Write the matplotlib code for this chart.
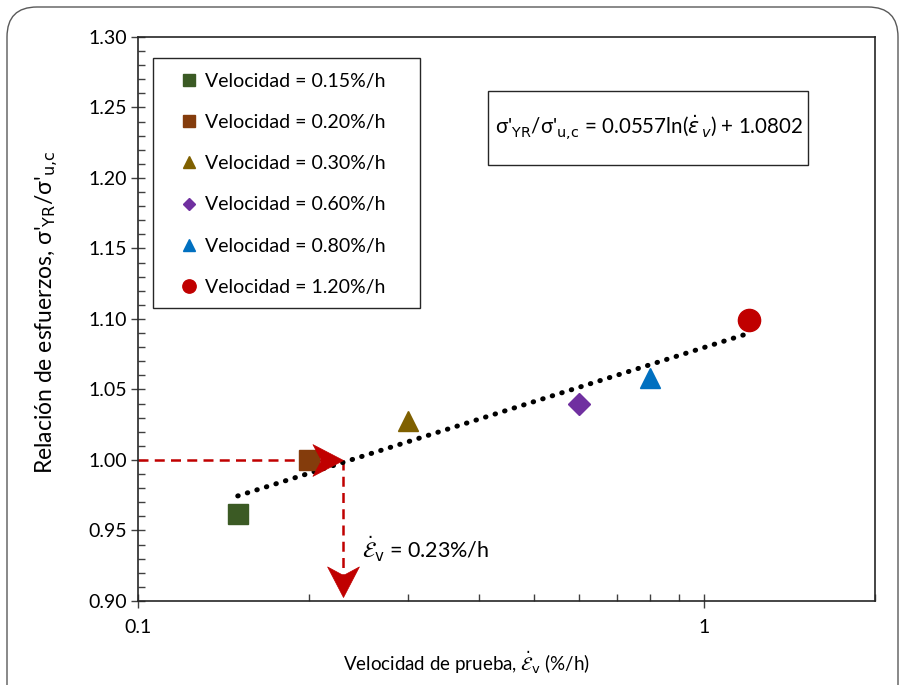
import numpy as np
import matplotlib.pyplot as plt
from matplotlib.patches import FancyBboxPatch, Rectangle
from matplotlib.markers import MarkerStyle
from matplotlib.path import Path
from matplotlib.transforms import Affine2D
from matplotlib.ticker import LogLocator, NullFormatter, MultipleLocator

plt.rcParams['font.family'] = ['Lato', 'DejaVu Sans']
plt.rcParams['mathtext.fontset'] = 'dejavusans'

# data
velocidades = [0.15, 0.20, 0.30, 0.60, 0.80, 1.20]
relacion = [0.962, 1.000, 1.028, 1.040, 1.058, 1.099]
etiquetas = ["Velocidad = 0.15%/h", "Velocidad = 0.20%/h", "Velocidad = 0.30%/h",
             "Velocidad = 0.60%/h", "Velocidad = 0.80%/h", "Velocidad = 1.20%/h"]
colores = ["#3B5A24", "#843C0C", "#7F6000", "#7030A0", "#0070C0", "#C00000"]
marcadores = ["s", "s", "^", "D", "^", "o"]
tamanos = [14, 14, 15, 11, 15, 16]
v_objetivo = 0.23
r_objetivo = 1.00

fig = plt.figure(figsize=(9.04, 6.85), dpi=100)
ax = fig.add_axes([138/904, 84/685, 737/904, 564/685])

# rounded outer frame
fig.patches.append(FancyBboxPatch((0.07, -0.4), 8.91, 7.18,
                                  boxstyle="round,pad=0,rounding_size=0.3",
                                  transform=fig.dpi_scale_trans, fc="none",
                                  ec="#595959", lw=1.0, zorder=0))

for v, r, lab, c, m, s in zip(velocidades, relacion, etiquetas, colores, marcadores, tamanos):
    ax.plot([v], [r], ls="none", marker=m, ms=s, color=c, mec=c, label=lab, zorder=4)

# logarithmic trend line
coef = np.polyfit(np.log(velocidades), relacion, 1)
xt = np.geomspace(velocidades[0], velocidades[-1], 200)
ax.plot(xt, coef[0]*np.log(xt) + coef[1], color="black", lw=3.6,
        ls=(0, (0.1, 1.9)), dash_capstyle="round", zorder=3)

# red dashed arrows
rojo = "#C00000"
ax.plot([0.1, v_objetivo*0.96], [r_objetivo, r_objetivo], color=rojo, lw=1.8, ls=(0, (4, 2.5)), zorder=2)
ax.plot([v_objetivo, v_objetivo], [r_objetivo, 0.908], color=rojo, lw=1.8, ls=(0, (4, 2.5)), zorder=2)
punta = Path([(0, 0), (-1, 0.52), (-0.72, 0), (-1, -0.52), (0, 0)],
             [Path.MOVETO, Path.LINETO, Path.LINETO, Path.LINETO, Path.CLOSEPOLY])
ax.plot([v_objetivo], [r_objetivo], ls="none", marker=MarkerStyle(punta), ms=44,
        mfc=rojo, mec=rojo, mew=0.5, zorder=5)
ax.plot([v_objetivo], [0.903], ls="none",
        marker=MarkerStyle(punta, transform=Affine2D().rotate_deg(-90)), ms=44,
        mfc=rojo, mec=rojo, mew=0.5, zorder=5)
ax.text(0.249, 0.937, r"$\dot{\mathcal{E}}_{\mathrm{v}}$ = 0.23%/h", fontsize=15.5,
        va="center", ha="left")

ax.set_xscale("log")
ax.set_xlim(0.1, 2)
ax.set_ylim(0.90, 1.30)
ax.set_xticks([0.1, 1], ["0.1", "1"])
ax.xaxis.set_minor_locator(LogLocator(base=10, subs=np.arange(2, 10)))
ax.xaxis.set_minor_formatter(NullFormatter())
ax.yaxis.set_minor_locator(MultipleLocator(0.01))
ax.set_yticks(np.arange(0.90, 1.301, 0.05), [f"{t:.2f}" for t in np.arange(0.90, 1.301, 0.05)])
ax.tick_params(which="major", direction="inout", length=10, width=1, labelsize=14, color="#404040")
ax.tick_params(which="minor", direction="in", length=5, width=1, color="#404040")
ax.tick_params(axis="y", which="major", pad=3)
ax.tick_params(axis="x", which="major", pad=8)
for sp in ax.spines.values():
    sp.set_color("#262626")
    sp.set_linewidth(1.2)

# legend with its own frame
ax.add_patch(Rectangle((0.0204, 0.5195), 0.3622, 0.4435, transform=ax.transAxes,
                       fc="white", ec="#262626", lw=1.0, zorder=6))
leg = ax.legend(loc="upper left", bbox_to_anchor=(0.058, 0.937), frameon=False,
                fontsize=14, labelspacing=1.25, handlelength=0.8, handletextpad=0.45,
                borderpad=0, borderaxespad=0, markerscale=0.6)
leg.set_zorder(7)

# equation box
ax.add_patch(Rectangle((0.475, 0.773), 0.434, 0.131, transform=ax.transAxes,
                       fc="white", ec="#262626", lw=1.0, zorder=6))
ax.text(0.694, 0.839,
        r"σ'$_{\mathrm{YR}}$/σ'$_{\mathrm{u{,}c}}$ = 0.0557ln($\dot{\varepsilon}_{\,v}$) + 1.0802",
        transform=ax.transAxes, ha="center", va="center", fontsize=14.8, zorder=7)

fig.text(466/904, 22/685, r"Velocidad de prueba, $\dot{\mathcal{E}}_{\mathrm{v}}$ (%/h)",
         ha="center", va="center", fontsize=13.5)
fig.text(47/904, 1 - 312/685,
         r"Relación de esfuerzos, σ'$_{\mathrm{YR}}$/σ'$_{\mathrm{u{,}c}}$",
         ha="center", va="center", rotation=90, fontsize=16.5)

fig.savefig("out.png", dpi=100)
